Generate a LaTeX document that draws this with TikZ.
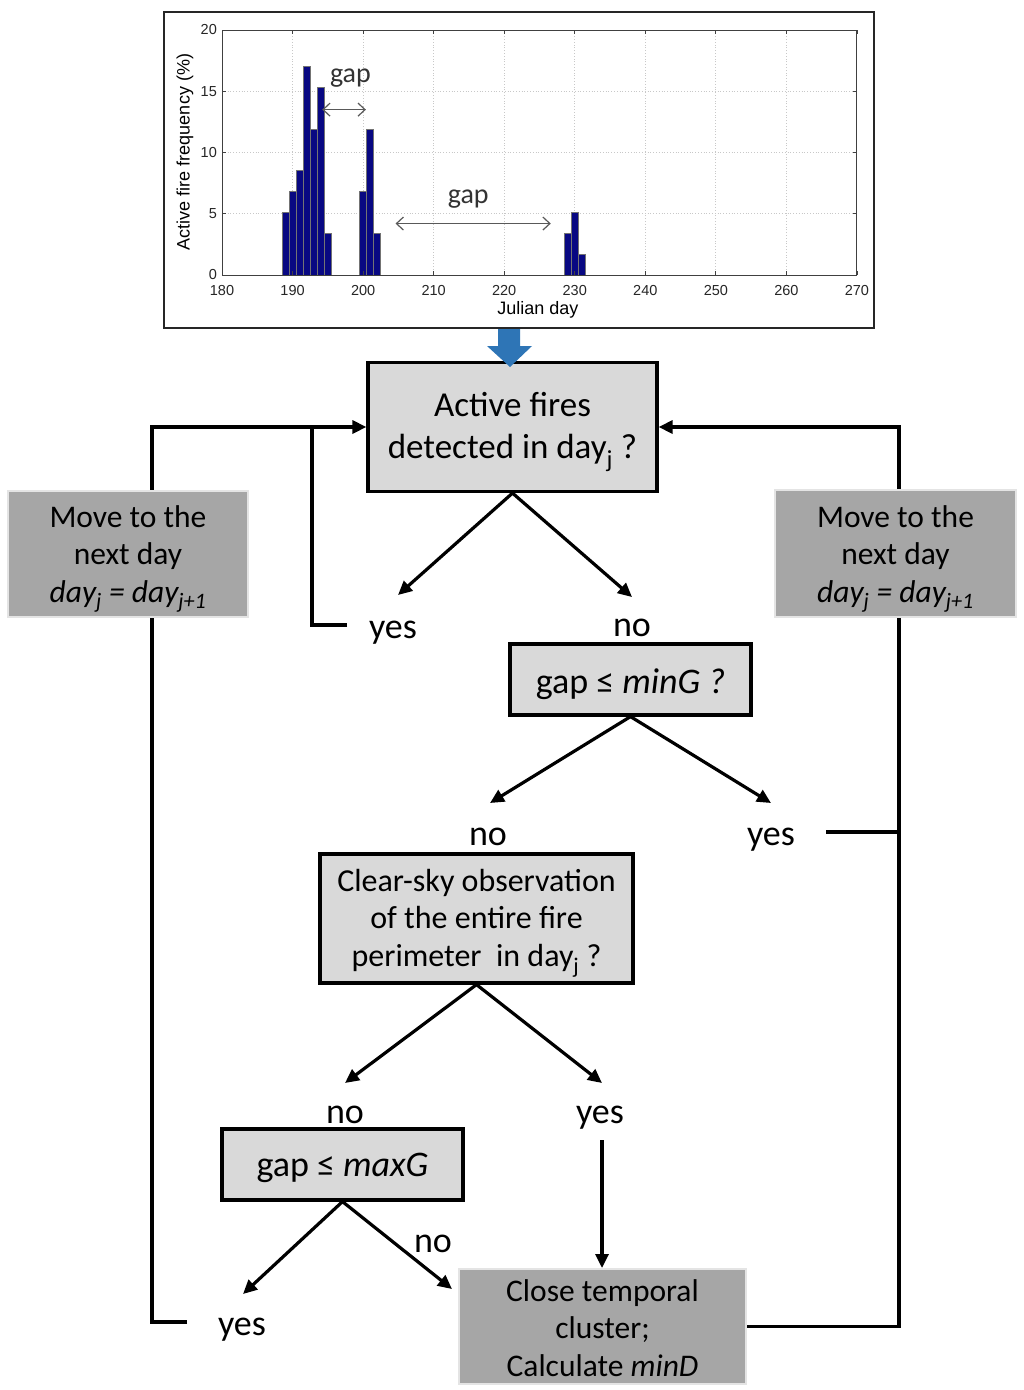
\documentclass[tikz,border=0pt]{standalone}
\usepackage{fontspec}
\setmainfont{Carlito}
\newfontfamily\plotfont{Liberation Sans}
\usetikzlibrary{arrows.meta}
\definecolor{lightbox}{HTML}{D9D9D9}
\definecolor{darkbox}{HTML}{A6A6A6}
\definecolor{darkedge}{HTML}{E4E4E4}
\definecolor{barnavy}{RGB}{8,8,130}
\definecolor{flowblue}{RGB}{46,117,182}
\definecolor{gridgray}{HTML}{C8C8C8}
\begin{document}
\begin{tikzpicture}[x=1pt,y=-1pt,
  qbox/.style={draw=black, line width=3.2pt, fill=lightbox, inner sep=0pt},
  abox/.style={draw=darkedge, line width=2pt, fill=darkbox, inner sep=0pt},
  btext/.style={align=center, inner sep=0pt},
  lbl/.style={font=\fontsize{36}{40}\selectfont, inner sep=0pt},
  conn/.style={line width=3.2pt, -{Triangle[length=14pt,width=13pt]}},
  plainline/.style={line width=3.2pt},
  gaparr/.style={draw=black!65, line width=1.2pt, {Straight Barb[length=7pt,width=13pt]}-{Straight Barb[length=7pt,width=13pt]}},
  tick/.style={font=\plotfont\fontsize{14.5}{14.5}\selectfont, text=black!85, inner sep=0pt},
  gaplbl/.style={font=\fontsize{28}{28}\selectfont, text=black!80, inner sep=0pt},
  bar/.style={fill=barnavy, draw=black!55, line width=0.8pt}
]
\useasboundingbox (0,0) rectangle (1024,1390);
\fill[white] (0,0) rectangle (1024,1390);

% ---------- chart ----------
\node[draw=black!85, line width=2pt, minimum width=710pt, minimum height=316pt, inner sep=0pt] (chart) at (519,170) {};
\begin{scope}[shift={(222pt,-275pt)}, x=7.055pt, y=12.25pt]
  \foreach \gx in {10,20,...,80} \draw[gridgray, dotted, line width=0.8pt] (\gx,0) -- (\gx,20);
  \foreach \gy in {5,10,15} \draw[gridgray, dotted, line width=0.8pt] (0,\gy) -- (90,\gy);
  \foreach \d/\v in {189/5.1,190/6.8,191/8.5,192/17,193/11.9,194/15.3,195/3.4,
                     200/6.8,201/11.9,202/3.4,229/3.4,230/5.1,231/1.7}
    \draw[bar] (\d-180.5,0) rectangle (\d-179.5,\v);
  \draw[black!75, line width=1pt] (0,0) rectangle (90,20);
  \foreach \gx in {0,10,...,90} {
    \draw[black!75, line width=0.8pt] (\gx,0) -- ++(0,0.35);
    \draw[black!75, line width=0.8pt] (\gx,20) -- ++(0,-0.35);
  }
  \foreach \gy in {0,5,...,20} {
    \draw[black!75, line width=0.8pt] (0,\gy) -- ++(0.6,0);
    \draw[black!75, line width=0.8pt] (90,\gy) -- ++(-0.6,0);
  }
  \foreach \gx [evaluate=\gx as \lab using int(\gx+180)] in {0,10,...,90}
    \node[tick] (xt\gx) at (\gx,-1.25) {\lab};
  \foreach \gy in {0,5,...,20}
    \node[tick, anchor=east] (yt\gy) at (-0.7,\gy) {\gy};
  \coordinate (g1a) at (14.2,13.5);
  \coordinate (g1b) at (20.4,13.5);
  \draw[gaparr] (g1a) -- (g1b);
  \node[gaplbl] (gap1) at (18.2,16.1) {gap};
  \coordinate (g2a) at (24.6,4.2);
  \coordinate (g2b) at (46.6,4.2);
  \draw[gaparr] (g2a) -- (g2b);
  \node[gaplbl] (gap2) at (34.9,6.2) {gap};
\end{scope}
\node[font=\plotfont\fontsize{18}{18}\selectfont, rotate=90, inner sep=0pt] (ylab) at (185,152) {Active fire frequency (\%)};
\node[font=\plotfont\fontsize{18}{18}\selectfont, inner sep=0pt] (xlab) at (538,310) {Julian day};

% ---------- flow boxes ----------
\node[qbox, minimum width=289pt, minimum height=129pt] (q1) at (512.5,427) {};
\node[btext, font=\fontsize{35}{42}\selectfont] (q1t) at (512.5,432) {Active fires\\detected in day\textsubscript{j} ?};
\node[qbox, minimum width=241pt, minimum height=71pt] (q2) at (630.5,679.5) {};
\node[btext, font=\fontsize{36}{40}\selectfont] (q2t) at (630.5,684) {gap ≤ \textit{minG ?}};
\node[qbox, minimum width=313pt, minimum height=129pt] (q3) at (476.5,918.5) {};
\node[btext, font=\fontsize{32}{37.5}\selectfont] (q3t) at (476.5,923) {Clear-sky observation\\of the entire fire\\perimeter\ \ in day\textsubscript{j} ?};
\node[qbox, minimum width=241pt, minimum height=71pt] (q4) at (342.5,1164.5) {};
\node[btext, font=\fontsize{36}{40}\selectfont] (q4t) at (342.5,1168) {gap ≤ \textit{maxG}};
\node[abox, minimum width=287pt, minimum height=115pt] (close) at (602.5,1326.5) {};
\node[btext, font=\fontsize{31.5}{37.5}\selectfont] (closet) at (602.5,1328) {Close temporal\\cluster;\\Calculate \textit{minD}};

% blue arrow from chart to first box
\fill[flowblue] (498,329) -- (520,329) -- (520,346) -- (532,346) -- (510,367) -- (487,346) -- (498,346) -- cycle;

% ---------- labels ----------
\node[lbl] (yes1) at (393,633) {yes};
\node[lbl] (no1) at (632,628) {no};
\node[lbl] (no2) at (488,837) {no};
\node[lbl] (yes2) at (771,840) {yes};
\node[lbl] (no3) at (345,1115) {no};
\node[lbl] (yes3) at (600,1118) {yes};
\node[lbl] (no4) at (433,1244) {no};
\node[lbl] (yes4) at (242,1330) {yes};

% ---------- arrow end points ----------
\coordinate (t1) at (398,595);
\coordinate (t2) at (632,597);
\coordinate (t3) at (490,803);
\coordinate (t4) at (771,803);
\coordinate (t5) at (345,1083);
\coordinate (t6) at (602,1083);
\coordinate (t7) at (243,1294);
\coordinate (t8) at (452,1289);
\coordinate (y3b) at (602,1140);
\coordinate (l1) at (347,625);
\coordinate (l2) at (187,1322);
\coordinate (r1) at (826,832);

\draw[conn] (q1.south) -- (t1);
\draw[conn] (q1.south) -- (t2);
\draw[conn] (q2.south) -- (t3);
\draw[conn] (q2.south) -- (t4);
\draw[conn] (q3.south) -- (t5);
\draw[conn] (q3.south) -- (t6);
\draw[conn] (q4.south) -- (t7);
\draw[conn] (q4.south) -- (t8);
\draw[conn] (y3b) -- (y3b |- close.north);

% loops
\draw[plainline] (l1) -- (312,625) -- (312,427);
\draw[conn] (l2) -- (152,1322) -- (152,427) -- (q1.west);
\draw[conn] (close.east) -| (899,427) -- (q1.east);
\draw[plainline] (r1) -- (899,832);

% move boxes (on top of loop lines)
\node[abox, minimum width=240pt, minimum height=126pt] (move1) at (128,554) {};
\node[btext, font=\fontsize{31.5}{37.5}\selectfont] (move1t) at (128,559) {Move to the\\next day\\\textit{day\textsubscript{j} = day\textsubscript{j+1}}};
\node[abox, minimum width=241pt, minimum height=127pt] (move2) at (895.5,553.5) {};
\node[btext, font=\fontsize{31.5}{37.5}\selectfont] (move2t) at (895.5,559) {Move to the\\next day\\\textit{day\textsubscript{j} = day\textsubscript{j+1}}};
\end{tikzpicture}
\end{document}
